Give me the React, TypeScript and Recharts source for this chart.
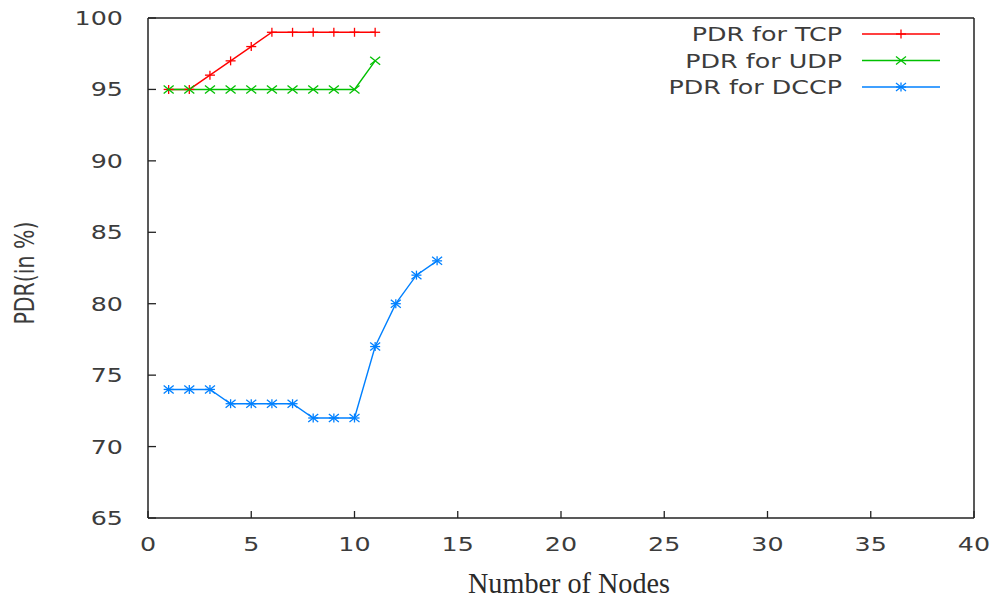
import { LineChart, Line, XAxis, YAxis } from 'recharts';

// x = number of nodes, values = PDR in %
const tcpNodes = [1, 2, 3, 4, 5, 6, 7, 8, 9, 10, 11];
const tcpPdr = [95, 95, 96, 97, 98, 99, 99, 99, 99, 99, 99];
const udpNodes = [1, 2, 3, 4, 5, 6, 7, 8, 9, 10, 11];
const udpPdr = [95, 95, 95, 95, 95, 95, 95, 95, 95, 95, 97];
const dccpNodes = [1, 2, 3, 4, 5, 6, 7, 8, 9, 10, 11, 12, 13, 14];
const dccpPdr = [74, 74, 74, 73, 73, 73, 73, 72, 72, 72, 77, 80, 82, 83];

const xTicks = [0, 5, 10, 15, 20, 25, 30, 35, 40];
const yTicks = [65, 70, 75, 80, 85, 90, 95, 100];

const seriesNames = ['PDR for TCP', 'PDR for UDP', 'PDR for DCCP'];
const seriesColors = ['#ff0000', '#00c000', '#0080ff'];
const seriesMarks = ['plus', 'cross', 'star'];

const AXIS = '#222';
const TEXT = '#3c3c3c';
const SANS = '"DejaVu Sans", sans-serif';
const FS = 19.5;

const toRows = (xs: number[], ys: number[]) => xs.map((x, i) => ({ x, y: ys[i] }));
const tcpData = toRows(tcpNodes, tcpPdr);
const udpData = toRows(udpNodes, udpPdr);
const dccpData = toRows(dccpNodes, dccpPdr);

function Mark({ cx, cy, kind, color }: { cx: number; cy: number; kind: string; color: string }) {
  const plus = (
    <>
      <line x1={cx - 5} x2={cx + 5} y1={cy} y2={cy} />
      <line x1={cx} x2={cx} y1={cy - 4.5} y2={cy + 4.5} />
    </>
  );
  const cross = (
    <>
      <line x1={cx - 5} x2={cx + 5} y1={cy - 4} y2={cy + 4} />
      <line x1={cx - 5} x2={cx + 5} y1={cy + 4} y2={cy - 4} />
    </>
  );
  return (
    <g stroke={color} strokeWidth={1.3}>
      {kind !== 'cross' && plus}
      {kind !== 'plus' && cross}
    </g>
  );
}

const dotFor = (i: number) => (p: any) => (
  <Mark key={`${i}-${p.index}`} cx={p.cx} cy={p.cy} kind={seriesMarks[i]} color={seriesColors[i]} />
);

const BottomTick = ({ x, y, payload }: any) => (
  <g>
    <line x1={x} x2={x} y1={y} y2={y - 7} stroke={AXIS} strokeWidth={1.3} />
    <text
      transform={`translate(${x},${y + 33}) scale(1.3,1)`}
      textAnchor="middle"
      fontFamily={SANS}
      fontSize={FS}
      fill={TEXT}
    >
      {payload.value}
    </text>
  </g>
);

const TopTick = ({ x, y }: any) => (
  <line x1={x} x2={x} y1={y} y2={y + 7} stroke={AXIS} strokeWidth={1.3} />
);

const LeftTick = ({ x, y, payload }: any) => (
  <g>
    <line x1={x} x2={x + 8} y1={y} y2={y} stroke={AXIS} strokeWidth={1.3} />
    <text
      transform={`translate(${x - 25},${y + 7}) scale(1.3,1)`}
      textAnchor="end"
      fontFamily={SANS}
      fontSize={FS}
      fill={TEXT}
    >
      {payload.value}
    </text>
  </g>
);

const RightTick = ({ x, y }: any) => (
  <line x1={x} x2={x - 8} y1={y} y2={y} stroke={AXIS} strokeWidth={1.3} />
);

export default function App() {
  const seriesData = [tcpData, udpData, dccpData];
  return (
    <div style={{ position: 'absolute', left: 0, top: 0, width: 996, height: 601, background: '#fff' }}>
      <LineChart width={996} height={601} margin={{ top: 17, right: 21, bottom: 82, left: 147 }}>
        <XAxis
          xAxisId="b"
          type="number"
          dataKey="x"
          domain={[0, 40]}
          ticks={xTicks}
          interval={0}
          height={1}
          tickSize={0}
          tickMargin={0}
          tickLine={false}
          tick={BottomTick}
          axisLine={{ stroke: AXIS, strokeWidth: 1.5 }}
          allowDataOverflow
        />
        <XAxis
          xAxisId="t"
          orientation="top"
          type="number"
          dataKey="x"
          domain={[0, 40]}
          ticks={xTicks}
          interval={0}
          height={1}
          tickSize={0}
          tickMargin={0}
          tickLine={false}
          tick={TopTick}
          axisLine={{ stroke: AXIS, strokeWidth: 1.5 }}
        />
        <YAxis
          yAxisId="l"
          type="number"
          domain={[65, 100]}
          ticks={yTicks}
          interval={0}
          width={1}
          tickSize={0}
          tickMargin={0}
          tickLine={false}
          tick={LeftTick}
          axisLine={{ stroke: AXIS, strokeWidth: 1.5 }}
          allowDataOverflow
        />
        <YAxis
          yAxisId="r"
          orientation="right"
          type="number"
          domain={[65, 100]}
          ticks={yTicks}
          interval={0}
          width={1}
          tickSize={0}
          tickMargin={0}
          tickLine={false}
          tick={RightTick}
          axisLine={{ stroke: AXIS, strokeWidth: 1.5 }}
        />
        {seriesData.map((d, i) => (
          <Line
            key={seriesNames[i]}
            xAxisId="b"
            yAxisId="l"
            data={d}
            dataKey="y"
            name={seriesNames[i]}
            type="linear"
            stroke={seriesColors[i]}
            strokeWidth={1.4}
            dot={dotFor(i)}
            activeDot={false}
            isAnimationActive={false}
          />
        ))}
      </LineChart>
      <svg
        width={996}
        height={601}
        style={{ position: 'absolute', left: 0, top: 0, pointerEvents: 'none' }}
      >
        {seriesNames.map((name, i) => {
          const cy = 34 + i * 26.5;
          return (
            <g key={name}>
              <text
                transform={`translate(842,${cy + 7}) scale(1.3,1)`}
                textAnchor="end"
                fontFamily={SANS}
                fontSize={FS}
                fill={TEXT}
              >
                {name}
              </text>
              <line x1={862} x2={940} y1={cy} y2={cy} stroke={seriesColors[i]} strokeWidth={1.4} />
              <Mark cx={901} cy={cy} kind={seriesMarks[i]} color={seriesColors[i]} />
            </g>
          );
        })}
        <text
          transform="translate(34,273) scale(1.3,1) rotate(-90)"
          textAnchor="middle"
          fontFamily={SANS}
          fontSize={20.5}
          fill={TEXT}
        >
          PDR(in %)
        </text>
        <text
          transform="translate(569,593) scale(0.94,1)"
          textAnchor="middle"
          fontFamily='"Liberation Serif", "Times New Roman", serif'
          fontSize={30}
          fill="#2a2a2a"
        >
          Number of Nodes
        </text>
      </svg>
    </div>
  );
}
